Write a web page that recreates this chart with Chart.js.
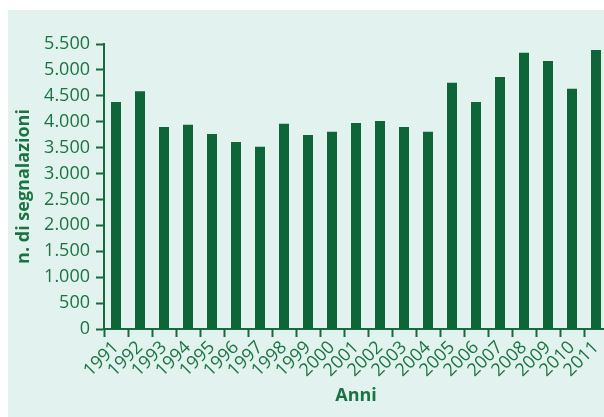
<!DOCTYPE html>
<html>
<head>
<meta charset="utf-8">
<script src="https://cdn.jsdelivr.net/npm/chart.js@4"></script>
<style>
  html, body { margin: 0; padding: 0; background: #ffffff; overflow: hidden; width: 604px; height: 417px; }
  #c { position: absolute; left: 0; top: 0; }
</style>
</head>
<body>
<canvas id="c" width="612" height="417"></canvas>
<script>
// Annual number of reports (n. di segnalazioni), 1991–2011
const anni = ['1991','1992','1993','1994','1995','1996','1997','1998','1999','2000',
              '2001','2002','2003','2004','2005','2006','2007','2008','2009','2010','2011'];
const segnalazioni = [4380, 4590, 3900, 3940, 3765, 3610, 3515, 3960, 3745, 3805,
                      3975, 4015, 3900, 3805, 4750, 4380, 4865, 5330, 5170, 4635, 5385];
const yTicks = [0, 500, 1000, 1500, 2000, 2500, 3000, 3500, 4000, 4500, 5000, 5500];

const BAR = '#0d6538';
const AXIS = '#156b3d';
const TEXT = '#1a7442';
const PANEL = '#e2f2ee';

const fmt = v => String(v).replace(/\B(?=(\d{3})+(?!\d))/g, '.');

// light panel behind the chart, leaving a thin white margin top-left
const panel = {
  id: 'panel',
  beforeDraw(chart) {
    const ctx = chart.ctx;
    ctx.save();
    ctx.fillStyle = PANEL;
    ctx.fillRect(8, 10, chart.width - 8, chart.height - 10);
    ctx.restore();
  }
};

new Chart(document.getElementById('c'), {
  type: 'bar',
  data: {
    labels: anni,
    datasets: [{
      data: segnalazioni,
      backgroundColor: BAR,
      borderWidth: 0,
      categoryPercentage: 1,
      barPercentage: 10 / 24
    }]
  },
  options: {
    responsive: false,
    animation: false,
    layout: { padding: { left: 8, right: 4, top: 44, bottom: 0 } },
    plugins: { legend: { display: false }, tooltip: { enabled: false } },
    scales: {
      x: {
        grid: { display: true, drawOnChartArea: false, offset: true, tickLength: 8, tickWidth: 2, color: AXIS },
        border: { display: true, color: AXIS, width: 2 },
        ticks: {
          color: TEXT, font: { family: 'Open Sans', size: 18 },
          minRotation: 45, maxRotation: 45, padding: 0, autoSkip: false
        },
        title: {
          display: true, text: 'Anni', color: TEXT,
          font: { family: 'Open Sans', size: 18, weight: 'bold' },
          padding: { top: 0, bottom: 10 }
        },
        afterFit(scale) { scale.height = 417 - 329; }
      },
      y: {
        min: 0, max: 5500,
        afterBuildTicks(scale) { scale.ticks = yTicks.map(v => ({ value: v })); },
        grid: { display: true, drawOnChartArea: false, tickLength: 8, tickWidth: 2, color: AXIS },
        border: { display: true, color: AXIS, width: 2 },
        ticks: {
          color: TEXT, font: { family: 'Open Sans', size: 18 }, padding: 6,
          callback: v => fmt(v)
        },
        title: {
          display: true, text: 'n. di segnalazioni', color: TEXT,
          font: { family: 'Open Sans', size: 18, weight: 'bold' },
          padding: { top: 5, bottom: 0 }
        },
        afterFit(scale) { scale.width = 104 - 8; }
      }
    }
  },
  plugins: [panel]
});
</script>
</body>
</html>
